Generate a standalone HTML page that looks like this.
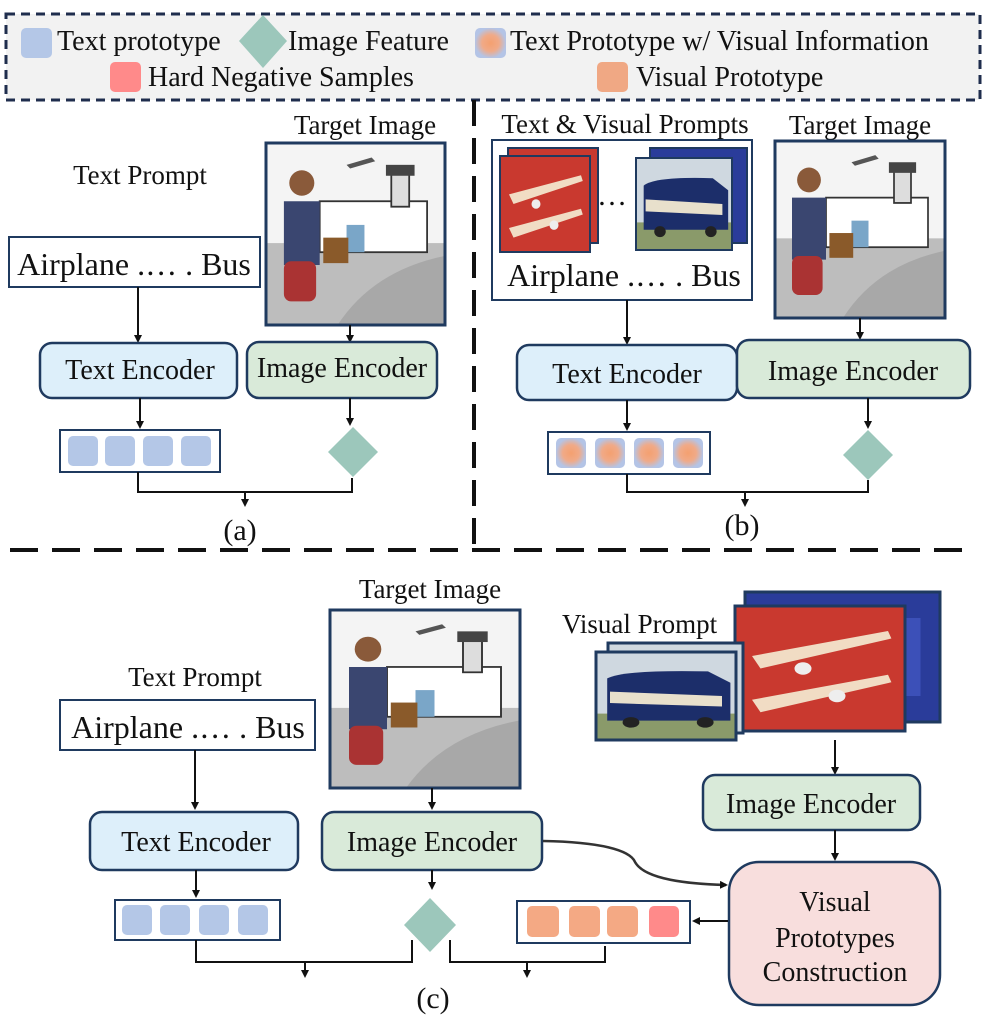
<!DOCTYPE html>
<html><head><meta charset="utf-8"><style>
body{margin:0;background:#fff}
svg text{font-family:"Liberation Serif","DejaVu Serif",serif;fill:#111}
</style></head><body>
<svg width="986" height="1017" viewBox="0 0 986 1017" xmlns="http://www.w3.org/2000/svg" font-family="Liberation Serif, DejaVu Serif, serif">
<defs>
<marker id="ah" markerWidth="8" markerHeight="8" refX="6" refY="4" orient="auto" markerUnits="userSpaceOnUse"><path d="M0,0 L8,4 L0,8 z" fill="#111"/></marker>
<radialGradient id="rg"><stop offset="0" stop-color="#f4a070"/><stop offset="0.55" stop-color="#f0aa88"/><stop offset="1" stop-color="#b4c4e6"/></radialGradient>
<g id="target">
<rect x="0" y="0" width="100" height="100" fill="#f4f4f4"/>
<rect x="0" y="55" width="100" height="45" fill="#bdbdbd"/>
<path d="M40 100 Q60 70 100 62 L100 100z" fill="#a8a8a8"/>
<rect x="30" y="32" width="60" height="28" fill="#fff" stroke="#333" stroke-width="1"/>
<rect x="70" y="15" width="10" height="20" fill="#ddd" stroke="#333" stroke-width="1"/>
<rect x="67" y="12" width="16" height="6" fill="#444"/>
<rect x="45" y="45" width="10" height="15" fill="#7aa6c8"/>
<path d="M45 12 l14 -4 l2 2 l-14 4z" fill="#555"/>
<circle cx="20" cy="22" r="7" fill="#8a5a3a"/>
<path d="M10 32 h20 v35 h-20z" fill="#3a4670"/>
<rect x="10" y="65" width="18" height="22" rx="4" fill="#a33"/>
<rect x="32" y="52" width="14" height="14" fill="#8a5a2a"/>
</g>
<g id="plane">
<rect x="0" y="0" width="100" height="100" fill="#c9392f"/>
<path d="M10 40 L90 20 L92 26 L15 50z" fill="#f1dcc4"/>
<path d="M10 75 L90 55 L92 61 L15 85z" fill="#f1dcc4"/>
<circle cx="40" cy="50" r="5" fill="#eee"/><circle cx="60" cy="72" r="5" fill="#eee"/>
</g>
<g id="bus">
<rect x="0" y="0" width="100" height="100" fill="#cfd8e0"/>
<rect x="0" y="70" width="100" height="30" fill="#8a9a6a"/>
<path d="M8 30 Q20 20 80 22 L96 35 L96 78 L8 78z" fill="#1c2e6a"/>
<path d="M10 45 L90 50 L90 62 L10 58z" fill="#e8e0cc"/>
<circle cx="25" cy="80" r="6" fill="#222"/><circle cx="78" cy="80" r="6" fill="#222"/>
</g>
<g id="busback">
<rect x="0" y="0" width="100" height="100" fill="#2a3c9a"/>
<rect x="10" y="20" width="80" height="60" fill="#3c50b8"/>
</g>
</defs>

<!-- Legend -->
<rect x="6" y="14" width="974" height="86" fill="#f2f2f2" stroke="#1f2d4d" stroke-width="3" stroke-dasharray="9,6"/>
<rect x="21" y="28" width="31" height="30" rx="5" fill="#b4c7e7"/>
<text x="57" y="50" font-size="28">Text prototype</text>
<path d="M263 15 L287 41 L263 68 L239 41z" fill="#9cc7bb"/>
<text x="288" y="50" font-size="28">Image Feature</text>
<rect x="475" y="28" width="31" height="30" rx="5" fill="url(#rg)"/>
<text x="510" y="50" font-size="28">Text Prototype w/ Visual Information</text>
<rect x="110" y="62" width="31" height="30" rx="5" fill="#ff8a8a"/>
<text x="148" y="86" font-size="28">Hard Negative Samples</text>
<rect x="597" y="62" width="31" height="30" rx="5" fill="#f0a884"/>
<text x="636" y="86" font-size="28">Visual Prototype</text>

<!-- dashed dividers -->
<line x1="474" y1="100" x2="474" y2="548" stroke="#111" stroke-width="4" stroke-dasharray="26,12"/>
<line x1="10" y1="550" x2="976" y2="550" stroke="#111" stroke-width="4" stroke-dasharray="28,14"/>

<!-- Panel a -->
<text x="140" y="184" font-size="27" text-anchor="middle">Text Prompt</text>
<rect x="9" y="237" width="251" height="50" fill="#fff" stroke="#1f3a5f" stroke-width="2"/>
<text x="134" y="275" font-size="32" text-anchor="middle">Airplane .… . Bus</text>
<text x="365" y="134" font-size="27" text-anchor="middle">Target Image</text>
<g transform="translate(266,143) scale(1.79,1.82)"><use href="#target"/></g>
<rect x="266" y="143" width="179" height="182" fill="none" stroke="#1f3a5f" stroke-width="3"/>
<line x1="138" y1="287" x2="138" y2="341" stroke="#111" stroke-width="2" marker-end="url(#ah)"/>
<line x1="350" y1="325" x2="350" y2="341" stroke="#111" stroke-width="2" marker-end="url(#ah)"/>
<rect x="40" y="343" width="197" height="55" rx="12" fill="#ddeffa" stroke="#1f3a5f" stroke-width="2.5"/>
<text x="140" y="379" font-size="28" text-anchor="middle">Text Encoder</text>
<rect x="247" y="342" width="190" height="56" rx="12" fill="#d9ead9" stroke="#1f3a5f" stroke-width="2.5"/>
<text x="342" y="377" font-size="28" text-anchor="middle">Image Encoder</text>
<line x1="140" y1="398" x2="140" y2="427" stroke="#111" stroke-width="2" marker-end="url(#ah)"/>
<line x1="350" y1="398" x2="350" y2="424" stroke="#111" stroke-width="2" marker-end="url(#ah)"/>
<rect x="60" y="430" width="160" height="42" fill="#fff" stroke="#1f3a5f" stroke-width="2"/>
<rect x="68" y="436" width="30" height="30" rx="5" fill="#b4c7e7"/>
<rect x="105" y="436" width="30" height="30" rx="5" fill="#b4c7e7"/>
<rect x="143" y="436" width="30" height="30" rx="5" fill="#b4c7e7"/>
<rect x="181" y="436" width="30" height="30" rx="5" fill="#b4c7e7"/>
<path d="M353 427 L378 452 L353 477 L328 452z" fill="#9cc7bb"/>
<path d="M138 472 V492 H352 V478" fill="none" stroke="#111" stroke-width="2"/>
<line x1="245" y1="492" x2="245" y2="505" stroke="#111" stroke-width="2" marker-end="url(#ah)"/>
<text x="240" y="540" font-size="30" text-anchor="middle">(a)</text>

<!-- Panel b -->
<text x="625" y="133" font-size="27" text-anchor="middle">Text &amp; Visual Prompts</text>
<rect x="492" y="140" width="260" height="160" fill="#fff" stroke="#1f3a5f" stroke-width="2"/>
<rect x="508" y="148" width="90" height="95" fill="#c9392f" stroke="#1f3a5f" stroke-width="2"/>
<g transform="translate(500,156) scale(0.9,0.96)"><use href="#plane"/></g>
<rect x="500" y="156" width="90" height="96" fill="none" stroke="#1f3a5f" stroke-width="2"/>
<text x="612" y="205" font-size="30" text-anchor="middle">…</text>
<rect x="650" y="148" width="97" height="95" fill="#2a3c9a" stroke="#1f3a5f" stroke-width="2"/>
<g transform="translate(636,158) scale(0.96,0.92)"><use href="#bus"/></g>
<rect x="636" y="158" width="96" height="92" fill="none" stroke="#1f3a5f" stroke-width="2"/>
<text x="624" y="286" font-size="32" text-anchor="middle">Airplane .… . Bus</text>
<text x="860" y="134" font-size="27" text-anchor="middle">Target Image</text>
<g transform="translate(775,141) scale(1.7,1.77)"><use href="#target"/></g>
<rect x="775" y="141" width="170" height="177" fill="none" stroke="#1f3a5f" stroke-width="3"/>
<line x1="627" y1="300" x2="627" y2="343" stroke="#111" stroke-width="2" marker-end="url(#ah)"/>
<line x1="860" y1="318" x2="860" y2="338" stroke="#111" stroke-width="2" marker-end="url(#ah)"/>
<rect x="517" y="345" width="220" height="55" rx="12" fill="#ddeffa" stroke="#1f3a5f" stroke-width="2.5"/>
<text x="627" y="383" font-size="28" text-anchor="middle">Text Encoder</text>
<rect x="737" y="340" width="233" height="58" rx="12" fill="#d9ead9" stroke="#1f3a5f" stroke-width="2.5"/>
<text x="853" y="380" font-size="28" text-anchor="middle">Image Encoder</text>
<line x1="627" y1="400" x2="627" y2="429" stroke="#111" stroke-width="2" marker-end="url(#ah)"/>
<line x1="868" y1="398" x2="868" y2="427" stroke="#111" stroke-width="2" marker-end="url(#ah)"/>
<rect x="548" y="432" width="162" height="42" fill="#fff" stroke="#1f3a5f" stroke-width="2"/>
<rect x="556" y="438" width="30" height="30" rx="5" fill="url(#rg)"/>
<rect x="595" y="438" width="30" height="30" rx="5" fill="url(#rg)"/>
<rect x="634" y="438" width="30" height="30" rx="5" fill="url(#rg)"/>
<rect x="673" y="438" width="30" height="30" rx="5" fill="url(#rg)"/>
<path d="M868 430 L893 455 L868 480 L843 455z" fill="#9cc7bb"/>
<path d="M627 474 V492 H868 V480" fill="none" stroke="#111" stroke-width="2"/>
<line x1="745" y1="492" x2="745" y2="505" stroke="#111" stroke-width="2" marker-end="url(#ah)"/>
<text x="742" y="535" font-size="30" text-anchor="middle">(b)</text>

<!-- Panel c -->
<text x="430" y="598" font-size="27" text-anchor="middle">Target Image</text>
<g transform="translate(330,610) scale(1.9,1.78)"><use href="#target"/></g>
<rect x="330" y="610" width="190" height="178" fill="none" stroke="#1f3a5f" stroke-width="3"/>
<text x="195" y="686" font-size="27" text-anchor="middle">Text Prompt</text>
<rect x="60" y="700" width="255" height="50" fill="#fff" stroke="#1f3a5f" stroke-width="2"/>
<text x="188" y="738" font-size="32" text-anchor="middle">Airplane .… . Bus</text>
<line x1="195" y1="750" x2="195" y2="808" stroke="#111" stroke-width="2" marker-end="url(#ah)"/>
<line x1="432" y1="788" x2="432" y2="808" stroke="#111" stroke-width="2" marker-end="url(#ah)"/>
<rect x="90" y="812" width="208" height="58" rx="12" fill="#ddeffa" stroke="#1f3a5f" stroke-width="2.5"/>
<text x="196" y="851" font-size="28" text-anchor="middle">Text Encoder</text>
<rect x="322" y="812" width="220" height="58" rx="12" fill="#d9ead9" stroke="#1f3a5f" stroke-width="2.5"/>
<text x="432" y="851" font-size="28" text-anchor="middle">Image Encoder</text>
<line x1="196" y1="870" x2="196" y2="896" stroke="#111" stroke-width="2" marker-end="url(#ah)"/>
<line x1="432" y1="870" x2="432" y2="888" stroke="#111" stroke-width="2" marker-end="url(#ah)"/>
<rect x="115" y="900" width="165" height="40" fill="#fff" stroke="#1f3a5f" stroke-width="2"/>
<rect x="122" y="905" width="30" height="30" rx="5" fill="#b4c7e7"/>
<rect x="160" y="905" width="30" height="30" rx="5" fill="#b4c7e7"/>
<rect x="199" y="905" width="30" height="30" rx="5" fill="#b4c7e7"/>
<rect x="238" y="905" width="30" height="30" rx="5" fill="#b4c7e7"/>
<path d="M430 898 L456 925 L430 952 L404 925z" fill="#9cc7bb"/>
<path d="M196 940 V962 H412 V940" fill="none" stroke="#111" stroke-width="2"/>
<line x1="305" y1="962" x2="305" y2="976" stroke="#111" stroke-width="2" marker-end="url(#ah)"/>
<path d="M450 940 V962 H605 V946" fill="none" stroke="#111" stroke-width="2"/>
<line x1="527" y1="962" x2="527" y2="976" stroke="#111" stroke-width="2" marker-end="url(#ah)"/>
<text x="433" y="1008" font-size="30" text-anchor="middle">(c)</text>

<text x="562" y="633" font-size="27">Visual Prompt</text>
<g transform="translate(745,592) scale(1.95,1.3)"><use href="#busback"/></g>
<rect x="745" y="592" width="195" height="130" fill="none" stroke="#1f3a5f" stroke-width="3"/>
<g transform="translate(735,606) scale(1.7,1.25)"><use href="#plane"/></g>
<rect x="735" y="606" width="170" height="125" fill="none" stroke="#1f3a5f" stroke-width="3"/>
<rect x="608" y="643" width="135" height="90" fill="#cfd8e0" stroke="#1f3a5f" stroke-width="3"/>
<g transform="translate(596,652) scale(1.4,0.88)"><use href="#bus"/></g>
<rect x="596" y="652" width="140" height="88" fill="none" stroke="#1f3a5f" stroke-width="3"/>
<line x1="835" y1="740" x2="835" y2="773" stroke="#111" stroke-width="2" marker-end="url(#ah)"/>
<rect x="703" y="775" width="217" height="55" rx="12" fill="#d9ead9" stroke="#1f3a5f" stroke-width="2.5"/>
<text x="811" y="813" font-size="28" text-anchor="middle">Image Encoder</text>
<line x1="835" y1="830" x2="835" y2="859" stroke="#111" stroke-width="2" marker-end="url(#ah)"/>
<rect x="729" y="862" width="211" height="143" rx="30" fill="#f8dedd" stroke="#1f3a5f" stroke-width="2.5"/>
<text x="835" y="911" font-size="28" text-anchor="middle">Visual</text>
<text x="835" y="947" font-size="28" text-anchor="middle">Prototypes</text>
<text x="835" y="981" font-size="28" text-anchor="middle">Construction</text>
<path d="M543 841 C600 842 630 850 635 862 C645 880 690 884 726 885" fill="none" stroke="#333" stroke-width="2.5" marker-end="url(#ah)"/>
<rect x="517" y="901" width="173" height="42" fill="#fff" stroke="#1f3a5f" stroke-width="2"/>
<rect x="527" y="906" width="32" height="31" rx="5" fill="#f4a984"/>
<rect x="569" y="906" width="31" height="31" rx="5" fill="#f4a984"/>
<rect x="607" y="906" width="31" height="31" rx="5" fill="#f4a984"/>
<rect x="649" y="906" width="30" height="31" rx="5" fill="#ff8a8a"/>
<line x1="728" y1="921" x2="694" y2="921" stroke="#111" stroke-width="2" marker-end="url(#ah)"/>
</svg>
</body></html>
